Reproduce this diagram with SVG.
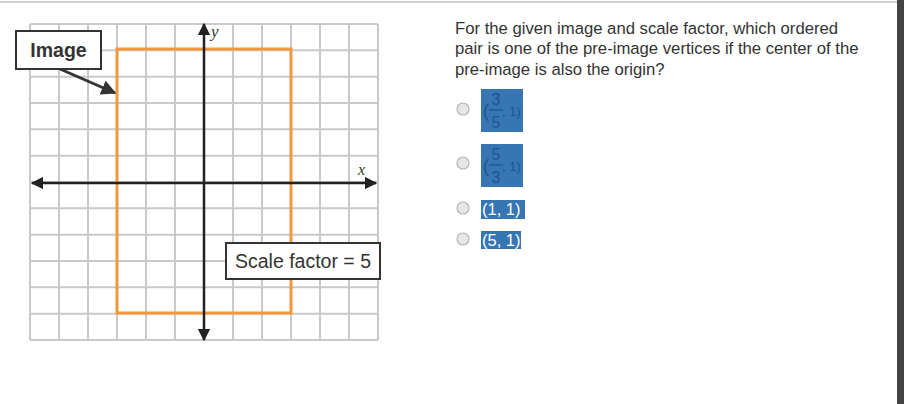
<svg xmlns="http://www.w3.org/2000/svg" width="904" height="404" viewBox="0 0 904 404">
<style>
.grid line{stroke:#c9c9c9;stroke-width:2}
.axis{stroke:#222;stroke-width:2.5;fill:none}
.lbl{font-family:"Liberation Sans",Arial,sans-serif;fill:#333}
.q{font-family:"Liberation Sans",Arial,sans-serif;font-size:16.7px;fill:#333}
.radio{fill:#e6e6e6;stroke:#b5b5b5;stroke-width:1.2}
.opt{fill:#3676b3}
.ft{font-family:"Liberation Sans",Arial,sans-serif;fill:#1d5590}
.wt{font-family:"Liberation Sans",Arial,sans-serif;font-size:16.5px;fill:#fff}
</style>
<defs>
<marker id="ah" viewBox="0 0 10 10" refX="9" refY="5" markerWidth="5" markerHeight="5" orient="auto-start-reverse" markerUnits="strokeWidth"><path d="M0,0 L10,5 L0,10 z" fill="#222"/></marker>
<marker id="ah2" viewBox="0 0 10 10" refX="9" refY="5" markerWidth="5" markerHeight="5" orient="auto" markerUnits="strokeWidth"><path d="M0,0 L10,5 L0,10 z" fill="#333"/></marker>
</defs>
<rect width="904" height="404" fill="#fff"/>
<line x1="0" y1="2" x2="897" y2="2" stroke="#cfcfcf" stroke-width="2"/>
<rect x="897" y="0" width="7" height="404" fill="#444"/>
<g id="grid" class="grid">
<line x1="30" y1="24" x2="30" y2="340"/><line x1="59" y1="24" x2="59" y2="340"/><line x1="88" y1="24" x2="88" y2="340"/><line x1="117" y1="24" x2="117" y2="340"/><line x1="146" y1="24" x2="146" y2="340"/><line x1="175" y1="24" x2="175" y2="340"/><line x1="204" y1="24" x2="204" y2="340"/><line x1="233" y1="24" x2="233" y2="340"/><line x1="262" y1="24" x2="262" y2="340"/><line x1="291" y1="24" x2="291" y2="340"/><line x1="320" y1="24" x2="320" y2="340"/><line x1="349" y1="24" x2="349" y2="340"/><line x1="378" y1="24" x2="378" y2="340"/>
<line x1="30" y1="24" x2="378" y2="24"/><line x1="30" y1="50.3" x2="378" y2="50.3"/><line x1="30" y1="76.7" x2="378" y2="76.7"/><line x1="30" y1="103" x2="378" y2="103"/><line x1="30" y1="129.3" x2="378" y2="129.3"/><line x1="30" y1="155.7" x2="378" y2="155.7"/><line x1="30" y1="182" x2="378" y2="182"/><line x1="30" y1="208.3" x2="378" y2="208.3"/><line x1="30" y1="234.7" x2="378" y2="234.7"/><line x1="30" y1="261" x2="378" y2="261"/><line x1="30" y1="287.3" x2="378" y2="287.3"/><line x1="30" y1="313.7" x2="378" y2="313.7"/><line x1="30" y1="340" x2="378" y2="340"/>
</g>
<g id="image-rect"><rect x="117" y="49" width="174" height="264" fill="none" stroke="#f0983a" stroke-width="3"/></g>
<g id="axes">
<line class="axis" x1="32" y1="183" x2="376" y2="183" marker-start="url(#ah)" marker-end="url(#ah)"/>
<line class="axis" x1="204" y1="340" x2="204" y2="24" stroke="#333" marker-start="url(#ah)" marker-end="url(#ah)"/>
<text class="lbl" x="211" y="37" font-style="italic" font-size="17" style="font-family:'Liberation Serif',serif">y</text>
<text class="lbl" x="358" y="175" font-style="italic" font-size="16" style="font-family:'Liberation Serif',serif">x</text>
</g>
<g id="connectors">
<line x1="60" y1="69" x2="115" y2="93" stroke="#333" stroke-width="3" marker-end="url(#ah2)"/>
</g>
<g id="image-label">
<rect x="16" y="31" width="85" height="38" fill="#fff" stroke="#333" stroke-width="2"/>
<text class="lbl" x="58.5" y="57" font-size="19.5" font-weight="bold" text-anchor="middle">Image</text>
</g>
<g id="scale-label">
<rect x="226" y="243" width="154" height="36" fill="#fff" stroke="#333" stroke-width="2"/>
<text class="lbl" x="303" y="268" font-size="19.5" text-anchor="middle">Scale factor = 5</text>
</g>
<g id="question">
<text class="q" x="455" y="34">For the given image and scale factor, which ordered</text>
<text class="q" x="455" y="54">pair is one of the pre-image vertices if the center of the</text>
<text class="q" x="455" y="75">pre-image is also the origin?</text>
</g>
<g id="opt1">
<circle class="radio" cx="463" cy="109" r="6"/>
<rect class="opt" x="481" y="89" width="42" height="43"/>
<text class="ft" x="483" y="117" style="font-size:18px">(</text>
<text class="ft" x="496" y="105" style="font-size:16px" text-anchor="middle">3</text>
<line x1="489" y1="110" x2="503" y2="110" stroke="#1d5590" stroke-width="1.3"/>
<text class="ft" x="496" y="128" style="font-size:16px" text-anchor="middle">5</text>
<text class="ft" x="502" y="116" style="font-size:13px">, 1)</text>
</g>
<g id="opt2">
<circle class="radio" cx="463" cy="163" r="6"/>
<rect class="opt" x="481" y="144" width="42" height="43"/>
<text class="ft" x="483" y="172" style="font-size:18px">(</text>
<text class="ft" x="496" y="160" style="font-size:16px" text-anchor="middle">5</text>
<line x1="489" y1="165" x2="503" y2="165" stroke="#1d5590" stroke-width="1.3"/>
<text class="ft" x="496" y="183" style="font-size:16px" text-anchor="middle">3</text>
<text class="ft" x="502" y="171" style="font-size:13px">, 1)</text>
</g>
<g id="opt3">
<circle class="radio" cx="463" cy="208" r="6"/>
<rect class="opt" x="481" y="200" width="44" height="19"/>
<text class="wt" x="482" y="215">(1, 1)</text>
</g>
<g id="opt4">
<circle class="radio" cx="463" cy="239" r="6"/>
<rect class="opt" x="481" y="231" width="40" height="18"/>
<text class="wt" x="482" y="246">(5, 1)</text>
</g>
</svg>
